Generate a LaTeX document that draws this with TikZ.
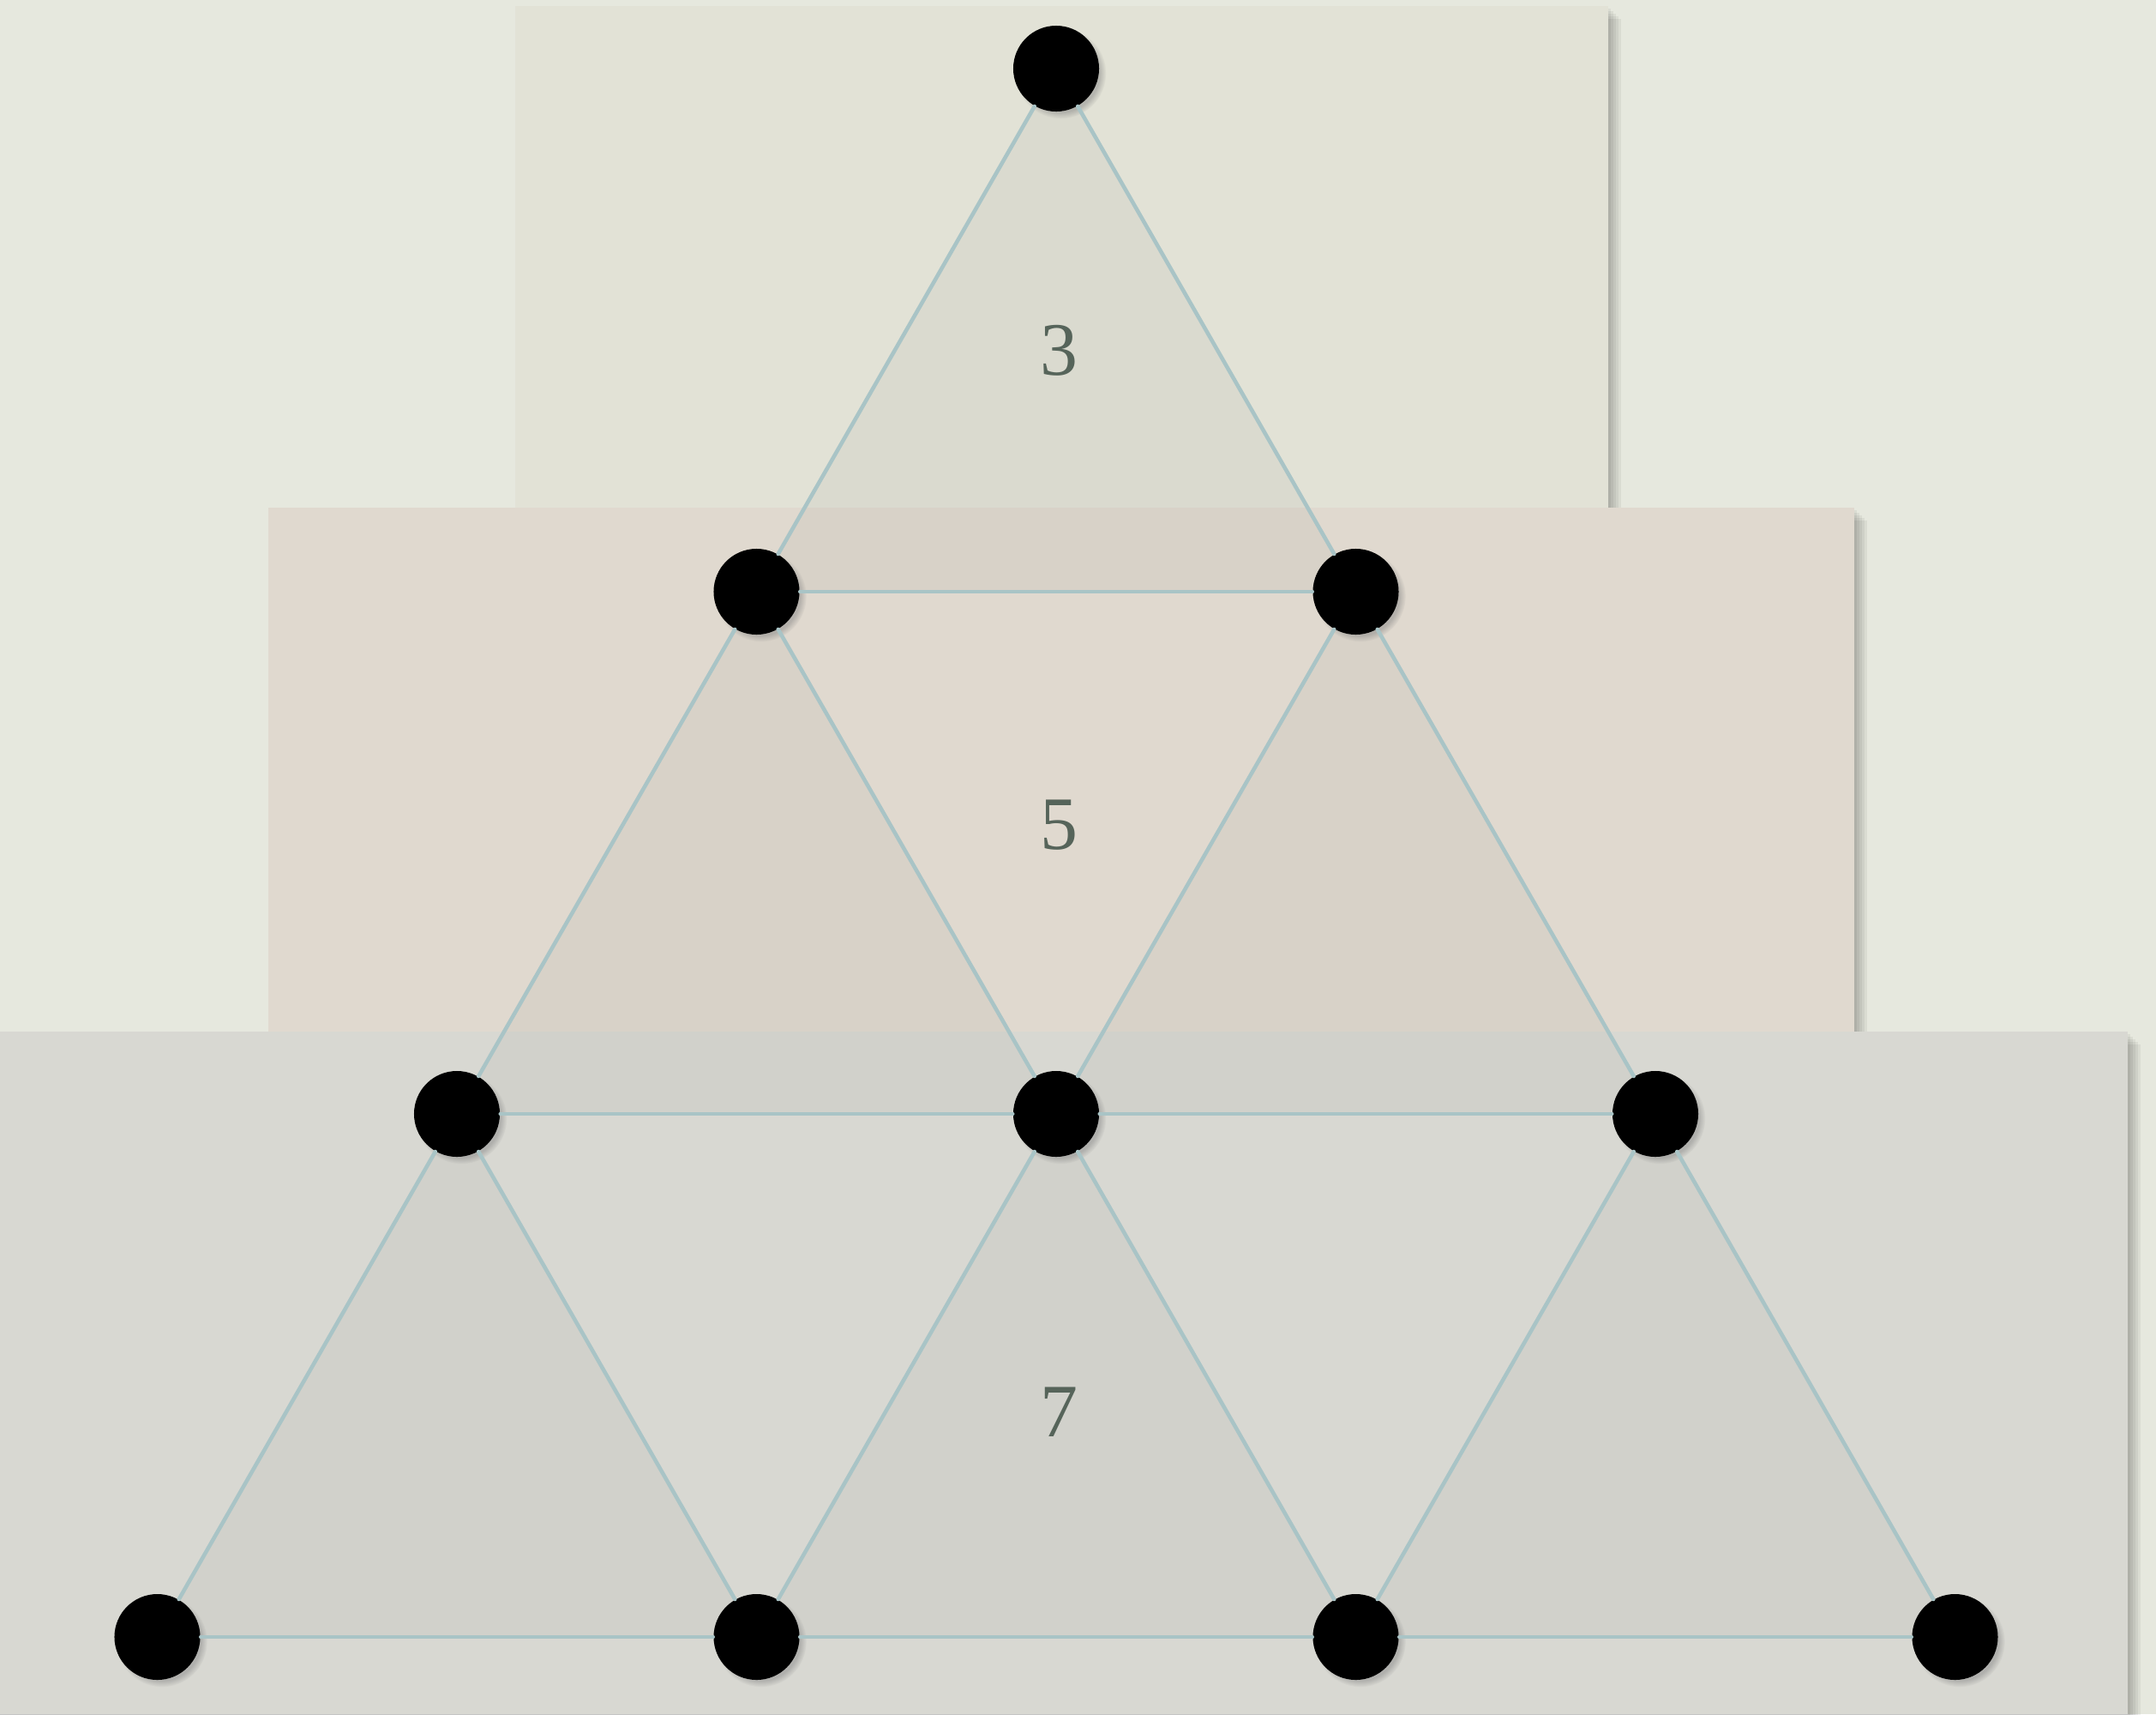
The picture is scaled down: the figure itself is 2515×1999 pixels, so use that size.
\documentclass[tikz,border=0pt]{standalone}
\usepackage{fontspec}
\setmainfont{Liberation Serif}
\usetikzlibrary{shadows}
\definecolor{bgc}{HTML}{E6E8DE}
\definecolor{topc}{HTML}{E2E2D6}
\definecolor{midc}{HTML}{E0D9CF}
\definecolor{botc}{HTML}{D8D8D2}
\definecolor{edgec}{HTML}{A9C4C6}
\definecolor{labc}{HTML}{56645A}
\begin{document}
\begin{tikzpicture}[x=0.01cm,y=-0.01cm,
  dotnode/.style={circle, fill=black, minimum size=1cm, inner sep=0pt,
    circular drop shadow={shadow xshift=0.05cm, shadow yshift=-0.05cm, shadow scale=1.06, opacity=0.45}},
  edge/.style={draw=edgec, line width=1.3pt, line cap=round},
  uptri/.style={fill=black, fill opacity=0.033},
  numlabel/.style={text=labc, font=\fontsize{25}{29}\selectfont, inner sep=0pt},
  panelshadow/.style={fill=black, opacity=0.05}
]
\useasboundingbox (0,0) rectangle (2515,1999);
\fill[bgc] (0,0) rectangle (2515,1999);

% panels with soft shadows
\foreach \d in {3,6,9,12,15}{\fill[panelshadow] (601+\d,7+\d) rectangle (1876+\d,592+\d);}
\fill[topc] (601,7) rectangle (1876,592);
\foreach \d in {3,6,9,12,15}{\fill[panelshadow] (313+\d,592+\d) rectangle (2163+\d,1203+\d);}
\fill[midc] (313,592) rectangle (2163,1203);
\foreach \d in {3,6,9,12,15}{\fill[panelshadow] (0,1203+\d) rectangle (2482+\d,1999+\d);}
\fill[botc] (0,1203) rectangle (2482,1999);

% lattice coordinates
\coordinate (p0) at (1232,80);
\coordinate (p1a) at (882.5,690);
\coordinate (p1b) at (1581.5,690);
\coordinate (p2a) at (533,1299);
\coordinate (p2b) at (1232,1299);
\coordinate (p2c) at (1931,1299);
\coordinate (p3a) at (183.5,1909);
\coordinate (p3b) at (882.5,1909);
\coordinate (p3c) at (1581.5,1909);
\coordinate (p3d) at (2280.5,1909);

% upward triangles
\fill[uptri] (p0) -- (p1a) -- (p1b) -- cycle;
\fill[uptri] (p1a) -- (p2a) -- (p2b) -- cycle;
\fill[uptri] (p1b) -- (p2b) -- (p2c) -- cycle;
\fill[uptri] (p2a) -- (p3a) -- (p3b) -- cycle;
\fill[uptri] (p2b) -- (p3b) -- (p3c) -- cycle;
\fill[uptri] (p2c) -- (p3c) -- (p3d) -- cycle;

% labels
\node[numlabel] (l3) at (1235,409) {3};
\node[numlabel] (l5) at (1235,962) {5};
\node[numlabel] (l7) at (1235,1647) {7};

% nodes
\node[dotnode] (n0) at (p0) {};
\node[dotnode] (n1a) at (p1a) {};
\node[dotnode] (n1b) at (p1b) {};
\node[dotnode] (n2a) at (p2a) {};
\node[dotnode] (n2b) at (p2b) {};
\node[dotnode] (n2c) at (p2c) {};
\node[dotnode] (n3a) at (p3a) {};
\node[dotnode] (n3b) at (p3b) {};
\node[dotnode] (n3c) at (p3c) {};
\node[dotnode] (n3d) at (p3d) {};

% edges
\draw[edge] (n0) -- (n1a);
\draw[edge] (n0) -- (n1b);
\draw[edge] (n1a) -- (n1b);
\draw[edge] (n1a) -- (n2a);
\draw[edge] (n1a) -- (n2b);
\draw[edge] (n1b) -- (n2b);
\draw[edge] (n1b) -- (n2c);
\draw[edge] (n2a) -- (n2b);
\draw[edge] (n2b) -- (n2c);
\draw[edge] (n2a) -- (n3a);
\draw[edge] (n2a) -- (n3b);
\draw[edge] (n2b) -- (n3b);
\draw[edge] (n2b) -- (n3c);
\draw[edge] (n2c) -- (n3c);
\draw[edge] (n2c) -- (n3d);
\draw[edge] (n3a) -- (n3b);
\draw[edge] (n3b) -- (n3c);
\draw[edge] (n3c) -- (n3d);
\end{tikzpicture}
\end{document}
